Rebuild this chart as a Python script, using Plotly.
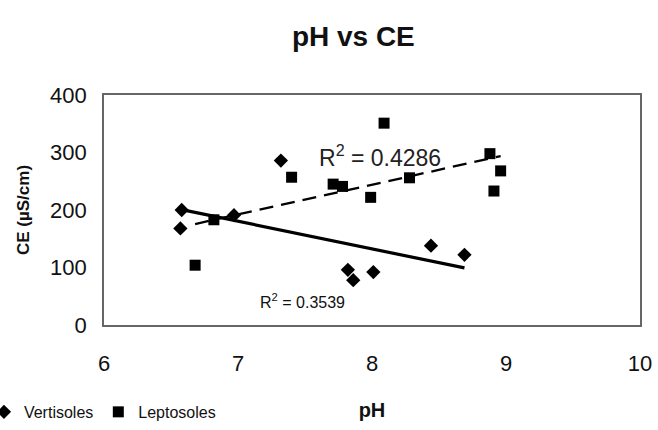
import numpy as np
import plotly.graph_objects as go

# Soil samples: pH and electrical conductivity (CE, µS/cm)
vert_ph = [6.58, 6.57, 6.97, 7.32, 7.82, 7.86, 8.01, 8.44, 8.69]
vert_ce = [200, 168, 191, 286, 96, 78, 92, 138, 122]

lept_ph = [6.68, 6.82, 7.40, 7.71, 7.78, 7.99, 8.09, 8.28, 8.88, 8.96, 8.91]
lept_ce = [104, 183, 257, 245, 241, 222, 351, 256, 298, 268, 233]

series_names = ["Vertisoles", "Leptosoles"]
r2_labels = ["R<sup>2</sup> = 0.3539", "R<sup>2</sup> = 0.4286"]

x_ticks = [6, 7, 8, 9, 10]
y_ticks = [0, 100, 200, 300, 400]

FONT = "Liberation Sans, Arial, sans-serif"
INVISIBLE = "rgba(0,0,0,0)"


def linear_fit(xs, ys):
    xs = np.asarray(xs, dtype=float)
    ys = np.asarray(ys, dtype=float)
    slope, intercept = np.polyfit(xs, ys, 1)
    xline = np.array([xs.min(), xs.max()])
    return xline, slope * xline + intercept


fig = go.Figure()

fig.add_trace(go.Scatter(
    x=vert_ph, y=vert_ce, mode="markers", name=series_names[0],
    marker=dict(symbol="diamond", size=11, color="black"),
))
fig.add_trace(go.Scatter(
    x=lept_ph, y=lept_ce, mode="markers", name=series_names[1],
    marker=dict(symbol="square", size=11, color="black"),
))

# Linear trend lines
vx, vy = linear_fit(vert_ph, vert_ce)
fig.add_trace(go.Scatter(
    x=vx, y=vy, mode="lines", showlegend=False,
    line=dict(color="black", width=3.2),
))
lx, ly = linear_fit(lept_ph, lept_ce)
fig.add_trace(go.Scatter(
    x=lx, y=ly, mode="lines", showlegend=False,
    line=dict(color="black", width=2.3, dash="14px,8px"),
))

# R² labels for each trend line
fig.add_annotation(x=7.485, y=42, text=r2_labels[0], showarrow=False,
                   font=dict(family=FONT, size=16, color="#111"))
fig.add_annotation(x=8.06, y=294, text=r2_labels[1], showarrow=False,
                   font=dict(family=FONT, size=23, color="#222"))

fig.update_layout(
    width=658, height=430,
    paper_bgcolor="white", plot_bgcolor="white",
    margin=dict(l=104, r=18, t=95, b=105, autoexpand=False),
    title=dict(text="<b>pH vs CE</b>", x=0.537, xanchor="center",
               y=0.915, yanchor="middle",
               font=dict(family=FONT, size=28, color="#111")),
    font=dict(family=FONT, color="#111"),
    showlegend=True,
    legend=dict(orientation="h", x=-0.224, xanchor="left", y=-0.378,
                yanchor="middle", font=dict(family=FONT, size=16, color="#111"),
                itemwidth=30, bgcolor=INVISIBLE),
    xaxis=dict(range=[6, 10], tickvals=x_ticks, showgrid=False, zeroline=False,
               showline=True, linecolor="#666", linewidth=1.6, mirror=True,
               ticks="outside", ticklen=18, tickcolor=INVISIBLE,
               tickfont=dict(size=22, color="#111"), automargin=False,
               title=dict(text="<b>pH</b>", font=dict(size=20, color="#111"),
                          standoff=28)),
    yaxis=dict(range=[0, 400], tickvals=y_ticks, showgrid=False, zeroline=False,
               showline=True, linecolor="#666", linewidth=1.6, mirror=True,
               ticks="outside", ticklen=11, tickcolor=INVISIBLE,
               tickfont=dict(size=22, color="#111"), automargin=False,
               title=dict(text="<b>CE (µS/cm)</b>", font=dict(size=17, color="#111"),
                          standoff=16)),
)

fig.write_html("out.html")
